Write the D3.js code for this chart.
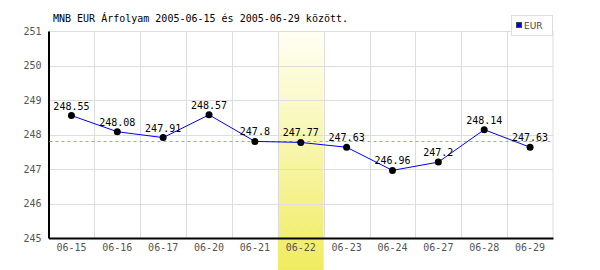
<!DOCTYPE html>
<html>
<head>
<meta charset="utf-8">
<script src="https://cdn.jsdelivr.net/npm/d3@7"></script>
<style>
  body { margin: 0; background: #fff; }
  text { font-family: "DejaVu Sans Mono", monospace; }
</style>
</head>
<body>
<div id="chart"></div>
<script>
// data
const dates = ["06-15","06-16","06-17","06-20","06-21","06-22","06-23","06-24","06-27","06-28","06-29"];
const rates = [248.55, 248.08, 247.91, 248.57, 247.8, 247.77, 247.63, 246.96, 247.2, 248.14, 247.63];
const yTicks = [245, 246, 247, 248, 249, 250, 251];
const highlightDate = "06-22";
const avgRate = 247.81;
const titleText = "MNB EUR Árfolyam 2005-06-15 és 2005-06-29 között.";
const seriesName = "EUR";

const width = 600, height = 270;
const margin = {top: 31, right: 47, bottom: 32, left: 48.5};

const svg = d3.select("#chart").append("svg")
    .attr("width", width)
    .attr("height", height);

const x = d3.scaleBand()
    .domain(dates)
    .range([margin.left, width - margin.right]);

const y = d3.scaleLinear()
    .domain([245, 251])
    .range([height - margin.bottom, margin.top]);

// highlight gradient
const defs = svg.append("defs");
const grad = defs.append("linearGradient")
    .attr("id", "hl").attr("x1", 0).attr("y1", 0).attr("x2", 0).attr("y2", 1);
grad.append("stop").attr("offset", "0%").attr("stop-color", "#fffff6");
grad.append("stop").attr("offset", "100%").attr("stop-color", "#f0ec60");

svg.append("rect")
    .attr("x", x(highlightDate))
    .attr("y", margin.top - 1)
    .attr("width", x.bandwidth())
    .attr("height", height - margin.top + 1)
    .attr("fill", "url(#hl)");

// grid
svg.append("g")
  .selectAll("line")
  .data(yTicks)
  .enter().append("line")
    .attr("x1", margin.left)
    .attr("x2", width - margin.right)
    .attr("y1", d => Math.round(y(d)) + 0.5)
    .attr("y2", d => Math.round(y(d)) + 0.5)
    .attr("stroke", "#dddddd");

svg.append("g")
  .selectAll("line")
  .data(dates.slice(1).concat(["end"]))
  .enter().append("line")
    .attr("x1", d => d == "end" ? width - margin.right : Math.round(x(d)) + 0.5)
    .attr("x2", d => d == "end" ? width - margin.right : Math.round(x(d)) + 0.5)
    .attr("y1", margin.top)
    .attr("y2", height - margin.bottom)
    .attr("stroke", "#dddddd");

// axes
const yAxis = svg.append("g")
    .attr("transform", `translate(${margin.left},0)`)
    .call(d3.axisLeft(y).tickValues(yTicks).tickFormat(d3.format("d")).tickSize(0).tickPadding(7));
yAxis.select(".domain").attr("stroke", "#000").attr("stroke-width", 2);
yAxis.selectAll("text").attr("fill", "#555").style("font-size", "10px")
    .style("font-family", "DejaVu Sans Mono, monospace");

const xAxis = svg.append("g")
    .attr("transform", `translate(0,${height - margin.bottom})`)
    .call(d3.axisBottom(x).tickSize(0).tickPadding(6));
xAxis.select(".domain").attr("stroke", "#000").attr("stroke-width", 2);
xAxis.selectAll("text").attr("fill", "#555").style("font-size", "10px")
    .style("font-family", "DejaVu Sans Mono, monospace");

// average line
svg.append("line")
    .attr("x1", margin.left + 1)
    .attr("x2", width - margin.right)
    .attr("y1", Math.round(y(avgRate)) + 0.5)
    .attr("y2", Math.round(y(avgRate)) + 0.5)
    .attr("stroke", "#9a9aff")
    .attr("stroke-dasharray", "3,3");

// line
const line = d3.line()
    .x((d, i) => x(dates[i]) + x.bandwidth() / 2)
    .y(d => y(d));

svg.append("path")
    .datum(rates)
    .attr("d", line)
    .attr("fill", "none")
    .attr("stroke", "#0000ff")
    .attr("stroke-width", 1);

svg.append("g")
  .selectAll("circle")
  .data(rates)
  .enter().append("circle")
    .attr("cx", (d, i) => x(dates[i]) + x.bandwidth() / 2)
    .attr("cy", d => y(d))
    .attr("r", 3.5)
    .attr("fill", "#000");

svg.append("g")
  .selectAll("text")
  .data(rates)
  .enter().append("text")
    .attr("x", (d, i) => x(dates[i]) + x.bandwidth() / 2)
    .attr("y", d => y(d) - 6)
    .attr("text-anchor", "middle")
    .style("font-size", "10px")
    .attr("fill", "#000")
    .text(d => d);

// title
svg.append("text")
    .attr("x", 53)
    .attr("y", 22)
    .style("font-size", "10px")
    .attr("fill", "#000")
    .text(titleText);

// legend
svg.append("rect")
    .attr("x", 511.5).attr("y", 15.5)
    .attr("width", 41).attr("height", 20)
    .attr("fill", "#fff").attr("stroke", "#dddddd");
svg.append("rect")
    .attr("x", 516.5).attr("y", 22.5)
    .attr("width", 5).attr("height", 5)
    .attr("fill", "#0000ff").attr("stroke", "#444");
svg.append("text")
    .attr("x", 524).attr("y", 29)
    .style("font-size", "9px")
    .style("font-family", "DejaVu Sans, sans-serif")
    .attr("fill", "#444")
    .text(seriesName);
</script>
</body>
</html>
